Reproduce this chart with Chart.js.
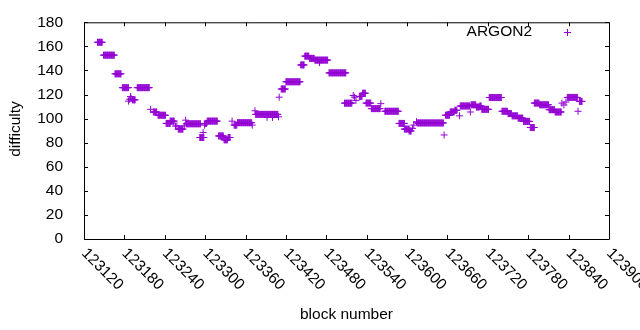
<!DOCTYPE html>
<html>
<head>
<meta charset="utf-8">
<script src="https://cdn.jsdelivr.net/npm/chart.js@4/dist/chart.umd.min.js"></script>
<style>
html, body { margin: 0; padding: 0; background: #fff; }
</style>
</head>
<body>
<canvas id="chart" width="640" height="330"></canvas>
<script>
// runs of blocks that share the same difficulty
const runFirstBlock = [
    123140, 123149, 123166, 123177, 123186, 123188, 123189, 123190, 123192, 123199,
    123219, 123223, 123230, 123242, 123248, 123256, 123258, 123260, 123269, 123271,
    123272, 123292, 123297, 123299, 123300, 123303, 123320, 123328, 123334, 123340,
    123343, 123348, 123370, 123374, 123375, 123392, 123400, 123409, 123410, 123413,
    123420, 123442, 123448, 123455, 123463, 123470, 123484, 123507, 123518, 123520,
    123522, 123524, 123529, 123534, 123539, 123547, 123561, 123567, 123588, 123596,
    123603, 123608, 123610, 123614, 123615, 123655, 123657, 123664, 123671, 123678,
    123679, 123694, 123695, 123703, 123708, 123711, 123722, 123741, 123750, 123756,
    123765, 123773, 123783, 123789, 123797, 123804, 123811, 123820, 123830, 123833,
    123836, 123838, 123854, 123856
];
const runLastBlock = [
    123147, 123165, 123175, 123186, 123186, 123188, 123189, 123190, 123196, 123217,
    123219, 123228, 123241, 123248, 123254, 123256, 123258, 123267, 123269, 123271,
    123293, 123298, 123297, 123299, 123302, 123318, 123327, 123333, 123337, 123340,
    123347, 123369, 123370, 123374, 123408, 123392, 123400, 123409, 123410, 123419,
    123441, 123447, 123454, 123462, 123482, 123470, 123509, 123517, 123518, 123520,
    123522, 123524, 123533, 123538, 123546, 123560, 123561, 123587, 123596, 123603,
    123606, 123608, 123610, 123614, 123654, 123655, 123663, 123670, 123674, 123678,
    123693, 123694, 123702, 123707, 123710, 123721, 123740, 123749, 123755, 123764,
    123772, 123782, 123789, 123796, 123803, 123810, 123819, 123829, 123830, 123833,
    123836, 123853, 123854, 123860
];
const runDifficulty = [
    163.4, 152.7, 137.2, 125.7, 114.5, 116, 118.4, 117, 115.6, 125.7,
    107.7, 105.5, 102.8, 96, 97.9, 93.8, 94, 91.3, 94, 98.7,
    95.7, 84.3, 88.5, 94.6, 96, 97.9, 85.6, 82.4, 84.3, 97.9,
    94.6, 96.6, 94.6, 106.5, 103.5, 101, 101, 101.5, 117.8, 124.6,
    130.6, 144.6, 151.9, 150, 148.6, 146.5, 138, 112.8, 113, 119.2,
    117.8, 115.1, 118.4, 121.1, 112.9, 108.3, 112.4, 106.1, 96, 91.3,
    89.7, 91.9, 94.6, 97.4, 96.4, 86.4, 102.8, 105.5, 106.9, 102.3,
    110.5, 105.5, 111.5, 109.6, 110.5, 107.7, 117.5, 106.1, 104.2, 102.3,
    100.4, 97.7, 92.6, 112.9, 111.5, 111.5, 107.4, 105.5, 112.9, 111.3,
    113.8, 117.6, 106.1, 114.3
];
const xTicks = [123120, 123180, 123240, 123300, 123360, 123420, 123480, 123540,
    123600, 123660, 123720, 123780, 123840, 123900];
const yTicks = [0, 20, 40, 60, 80, 100, 120, 140, 160, 180];

const points = [];
runFirstBlock.forEach((first, i) => {
    for (let b = first; b <= runLastBlock[i]; b++) {
        points.push({ x: b, y: runDifficulty[i] });
    }
});

const purple = '#9400d3';
const font = '15.5px "Liberation Sans", Arial, sans-serif';

const gnuplotFrame = {
    id: 'gnuplotFrame',
    afterDraw(chart) {
        const { ctx, chartArea: a, scales: { x, y } } = chart;
        const tick = 4;
        ctx.save();
        ctx.strokeStyle = '#000';
        ctx.lineWidth = 1;
        ctx.beginPath();
        ctx.rect(a.left + 0.5, a.top + 0.5, a.right - a.left, a.bottom - a.top);
        xTicks.forEach(v => {
            const px = Math.round(x.getPixelForValue(v)) + 0.5;
            ctx.moveTo(px, a.bottom); ctx.lineTo(px, a.bottom - tick);
            ctx.moveTo(px, a.top); ctx.lineTo(px, a.top + tick);
        });
        yTicks.forEach(v => {
            const py = Math.round(y.getPixelForValue(v)) + 0.5;
            ctx.moveTo(a.left, py); ctx.lineTo(a.left + tick, py);
            ctx.moveTo(a.right, py); ctx.lineTo(a.right - tick, py);
        });
        ctx.stroke();

        ctx.fillStyle = '#000';
        ctx.font = font;
        // rotated x tick labels, gnuplot style
        ctx.textAlign = 'left';
        ctx.textBaseline = 'middle';
        xTicks.forEach(v => {
            ctx.save();
            ctx.translate(x.getPixelForValue(v), a.bottom + 12);
            ctx.rotate(Math.PI / 4);
            ctx.fillText(String(v), 0, 0);
            ctx.restore();
        });

        ctx.textAlign = 'center';
        ctx.fillText('block number', (a.left + a.right) / 2, 315);
        ctx.save();
        ctx.translate(16, 129);
        ctx.rotate(-Math.PI / 2);
        ctx.fillText('difficulty', 0, 0);
        ctx.restore();

        // key
        ctx.textAlign = 'right';
        ctx.fillText('ARGON2', 532, 32);
        ctx.strokeStyle = purple;
        Chart.helpers.drawPoint(ctx, { pointStyle: 'cross', radius: 3.5, borderWidth: 1 }, 567.5, 32.5);
        ctx.restore();
    }
};

new Chart(document.getElementById('chart'), {
    type: 'scatter',
    data: {
        datasets: [{
            label: 'ARGON2',
            data: points,
            pointStyle: 'cross',
            pointRadius: 3.5,
            borderWidth: 1,
            borderColor: purple,
            backgroundColor: purple
        }]
    },
    options: {
        responsive: false,
        animation: false,
        layout: { padding: { top: 19, right: 31, left: 0, bottom: 0 } },
        plugins: { legend: { display: false }, tooltip: { enabled: false } },
        scales: {
            x: {
                type: 'linear',
                min: 123120,
                max: 123900,
                grid: { display: false },
                border: { display: false },
                ticks: { display: false },
                afterBuildTicks: s => { s.ticks = xTicks.map(v => ({ value: v })); },
                afterFit: s => { s.height = 91; }
            },
            y: {
                min: 0,
                max: 180,
                grid: { display: false },
                border: { display: false },
                ticks: {
                    color: '#000',
                    padding: 13,
                    font: { family: '"Liberation Sans", Arial, sans-serif', size: 15.5 }
                },
                afterBuildTicks: s => { s.ticks = yTicks.map(v => ({ value: v })); },
                afterFit: s => { s.width = 84; }
            }
        }
    },
    plugins: [gnuplotFrame]
});
</script>
</body>
</html>
